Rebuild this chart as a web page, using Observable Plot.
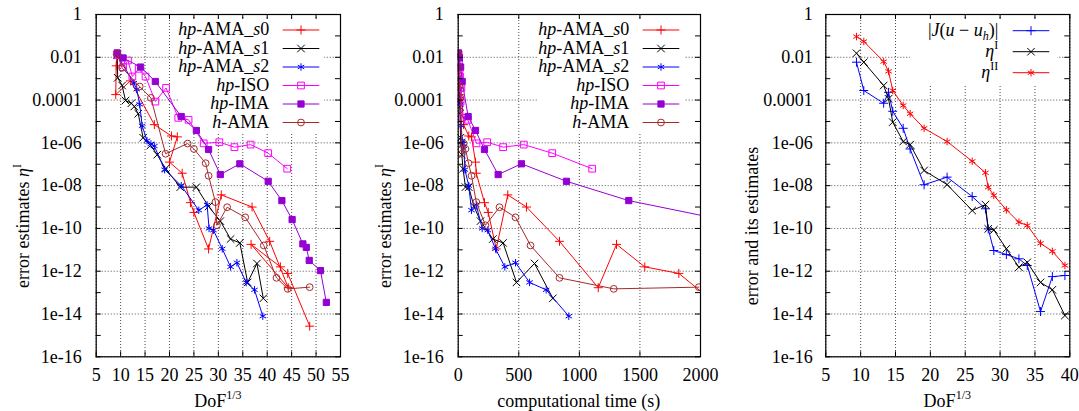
<!DOCTYPE html>
<html><head><meta charset="utf-8">
<script src="https://cdn.jsdelivr.net/npm/d3@7"></script>
<script src="https://cdn.jsdelivr.net/npm/@observablehq/plot@0.6"></script>
<style>
body{margin:0;background:#fff;}
#wrap{display:flex;width:1079px;height:411px;overflow:hidden;}
svg{display:block;}
</style></head><body><div id="wrap"></div>
<script>
// ---------- axis ticks ----------
const yTicks = [1, 1e-2, 1e-4, 1e-6, 1e-8, 1e-10, 1e-12, 1e-14, 1e-16];
const yTickLabels = ["1", "0.01", "0.0001", "1e-06", "1e-08", "1e-10", "1e-12", "1e-14", "1e-16"];
const yDecades = [1, 1e-1, 1e-2, 1e-3, 1e-4, 1e-5, 1e-6, 1e-7, 1e-8, 1e-9, 1e-10, 1e-11, 1e-12, 1e-13, 1e-14, 1e-15, 1e-16];
const dofTicksA = [5, 10, 15, 20, 25, 30, 35, 40, 45, 50, 55];
const timeTicks = [0, 500, 1000, 1500, 2000];
const dofTicksC = [5, 10, 15, 20, 25, 30, 35, 40];

// ---------- panels 1 & 2 : error estimate eta^I vs DoF^(1/3) and time ----------
const s0Dof  = [9.3, 9.1, 9.0, 12.0, 16.9, 20.4, 21.6, 20.0, 22.6, 24.3, 25.0, 28.0, 30.6, 36.9, 40.5, 44.3, 36.7, 42.7, 44.2, 48.7];
const s0Time = [3, 6, 10, 20, 45, 87, 110, 143, 149, 217, 248, 314, 409, 564, 836, 1156, 1307, 1540, 1821, 2355];
const s0Err  = [1.4e-2, 4.0e-3, 1.8e-4, 7.9e-4, 7.1e-6, 2.1e-6, 1.9e-6, 1.26e-7, 3.8e-8, 1.6e-9, 5.6e-10, 1.1e-11, 3.7e-9, 1.0e-9, 2.5e-11, 1.7e-13, 1.8e-11, 1.6e-12, 7.9e-13, 2.7e-15];

const s1Dof  = [9.3, 9.4, 10.3, 11.0, 12.2, 12.8, 13.6, 14.6, 16.1, 17.5, 19.2, 22.2, 25.5, 28.0, 30.4, 32.5, 34.4, 36.0, 37.9, 39.2];
const s1Time = [2, 4, 6, 8, 10, 12, 15, 19, 24, 30, 40, 60, 87, 130, 184, 286, 371, 481, 630, 781];
const s1Err  = [1.26e-2, 1.1e-3, 4.8e-4, 9.5e-5, 7.1e-5, 5.0e-5, 2.3e-5, 1.74e-6, 7.6e-7, 2.8e-7, 6.2e-8, 8.5e-9, 8.5e-9, 1.07e-9, 2.2e-10, 3.2e-11, 2.1e-11, 3.0e-13, 2.3e-12, 5.4e-14];

const s2Dof  = [9.3, 12.7, 13.3, 13.9, 14.4, 15.4, 16.2, 16.9, 19.0, 22.4, 26.0, 27.7, 28.1, 29.0, 30.8, 32.5, 33.8, 35.7, 37.4, 39.1];
const s2Time = [2, 8, 12, 18, 25, 33, 38, 46, 55, 87, 110, 149, 198, 244, 308, 385, 473, 589, 726, 913];
const s2Err  = [1.26e-2, 6.3e-4, 3.2e-4, 6.3e-5, 6.3e-6, 1.26e-6, 8.9e-7, 7.1e-7, 5.6e-8, 1.0e-8, 7.1e-10, 1.26e-9, 1.0e-10, 8.3e-11, 1.12e-11, 1.6e-12, 2.5e-12, 3.0e-13, 1.35e-13, 7.9e-15];

const isoDof  = [9.3, 10.5, 11.5, 12.4, 13.7, 15.1, 17.1, 19.3, 21.8, 23.9, 27.0, 30.2, 33.3, 36.6, 40.2, 44.1];
const isoTime = [2, 4, 6, 9, 12, 15, 20, 26, 33, 79, 151, 239, 371, 541, 776, 1106];
const isoErr  = [1.26e-2, 3.5e-3, 7.1e-3, 1.26e-3, 2.9e-3, 1.26e-3, 8.5e-5, 3.7e-4, 1.48e-5, 1.2e-5, 9.5e-7, 1.07e-6, 6.3e-7, 8.3e-7, 3.3e-7, 6.2e-8];

const imaDof  = [9.3, 10.5, 14.1, 17.1, 22.4, 25.5, 28.0, 30.4, 34.4, 40.2, 43.0, 45.1, 47.3, 48.0, 48.6, 50.9, 52.1];
const imaTime = [2, 10, 20, 33, 82, 143, 217, 330, 522, 894, 1408, 2175, 2800, 3100, 3400, 3800, 4300];
const imaErr  = [1.6e-2, 9.3e-3, 3.5e-3, 7.4e-4, 1.7e-5, 3.8e-6, 4.9e-7, 3.3e-8, 1.05e-7, 1.6e-8, 2.0e-9, 2.6e-10, 1.9e-11, 1.3e-11, 3.2e-12, 1.07e-12, 3.5e-14];

const hamaDof  = [9.3, 10.3, 13.9, 16.2, 19.2, 23.7, 25.0, 27.4, 28.0, 29.4, 29.7, 31.8, 35.5, 39.3, 41.9, 44.2, 48.7];
const hamaTime = [2, 5, 10, 18, 30, 45, 60, 85, 110, 149, 225, 341, 473, 597, 836, 1284, 1986];
const hamaErr  = [1.4e-2, 3.2e-3, 4.3e-4, 1.26e-4, 3.1e-7, 9.3e-7, 5.2e-7, 1.12e-7, 2.9e-8, 1.7e-9, 1.4e-10, 9.8e-10, 3.3e-10, 1.6e-11, 4.9e-13, 1.5e-13, 1.8e-13];

// ---------- panel 3 : error and its estimates ----------
const p3Dof   = [9.4, 10.45, 13.3, 14.0, 14.6, 16.1, 17.1, 19.1, 22.4, 26.0, 27.9, 28.3, 29.1, 30.9, 32.7, 33.9, 35.8, 37.5, 39.3];
const p3ErrJ  = [5.9e-3, 2.8e-4, 7.1e-5, 2.3e-4, 3.0e-5, 4.8e-6, 5.2e-7, 1.1e-8, 2.5e-8, 3.1e-9, 8.3e-10, 9.5e-11, 9.3e-12, 6.0e-12, 3.8e-12, 1.86e-12, 1.3e-14, 5.6e-13, 6.3e-13];
const p3EtaI  = [1.55e-2, 5.9e-3, 4.8e-4, 1.15e-4, 9.3e-6, 1.15e-6, 8.3e-7, 5.1e-8, 1.12e-8, 6.9e-10, 1.3e-9, 9.5e-11, 8.5e-11, 1.12e-11, 1.55e-12, 2.6e-12, 3.0e-13, 1.35e-13, 8.5e-15];
const p3EtaII = [9.3e-2, 5.5e-2, 6.3e-3, 2.2e-3, 2.8e-4, 5.6e-5, 2.3e-5, 4.8e-6, 1.15e-6, 1.38e-7, 4.0e-8, 8.5e-9, 3.5e-9, 7.4e-10, 1.95e-10, 1.38e-10, 2.0e-11, 8.5e-12, 1.86e-12];

// ---------- labels ----------
const namesAB = [
  '<tspan font-style="italic">hp</tspan>-AMA_<tspan font-style="italic">s</tspan>0',
  '<tspan font-style="italic">hp</tspan>-AMA_<tspan font-style="italic">s</tspan>1',
  '<tspan font-style="italic">hp</tspan>-AMA_<tspan font-style="italic">s</tspan>2',
  '<tspan font-style="italic">hp</tspan>-ISO',
  '<tspan font-style="italic">hp</tspan>-IMA',
  '<tspan font-style="italic">h</tspan>-AMA'
];
const namesC = [
  '|<tspan font-style="italic">J</tspan>(<tspan font-style="italic">u</tspan> − <tspan font-style="italic">u</tspan><tspan font-style="italic" font-size="12" dy="4">h</tspan><tspan dy="-4">)|</tspan>',
  '<tspan font-style="italic">η</tspan><tspan font-size="12" dy="-8">I</tspan>',
  '<tspan font-style="italic">η</tspan><tspan font-size="12" dy="-8">II</tspan>'
];

// ---------- styles ----------
const symbolMap = {plus: d3.symbolPlus, times: d3.symbolTimes, asterisk: d3.symbolAsterisk, square: d3.symbolSquare, circle: d3.symbolCircle};
const stylesAB = [
  {color: "#ff0000", symbol: "plus", r: 3.0, fill: false},
  {color: "#000000", symbol: "times", r: 3.5, fill: false},
  {color: "#0000ff", symbol: "asterisk", r: 3.5, fill: false},
  {color: "#ff00ff", symbol: "square", r: 3.8, fill: false},
  {color: "#9400d3", symbol: "square", r: 3.5, fill: true},
  {color: "#a52a2a", symbol: "circle", r: 3.4, fill: false}
];
const stylesC = [
  {color: "#0000ff", symbol: "plus", r: 3.0, fill: false},
  {color: "#000000", symbol: "times", r: 3.5, fill: false},
  {color: "#ff0000", symbol: "asterisk", r: 3.5, fill: false}
];

const rows = (xs, ys) => xs.map((x, i) => ({x, y: ys[i]}));

const FONT = "'Liberation Serif', 'Times New Roman', serif";
const H = 411, MT = 14, MB = 54.7;

function makePanel(cfg) {
  const {width, mL, mR, xDomain, xTicks, series, styles, names, leg} = cfg;
  const plotW = width - mL - mR, plotH = H - MT - MB;
  const gridStyle = {stroke: "#000", strokeOpacity: 0.7, strokeWidth: 1, strokeDasharray: "1,2"};
  const marks = [
    Plot.ruleX(xTicks, gridStyle),
    Plot.ruleY(yTicks, gridStyle)
  ];
  series.forEach((data, k) => {
    const st = styles[k];
    marks.push(Plot.line(data, {x: "x", y: "y", stroke: st.color, strokeWidth: 1, clip: true}));
    marks.push(Plot.dot(data, {x: "x", y: "y", symbol: st.symbol, r: st.r, stroke: st.color, strokeWidth: 1,
      fill: st.fill ? st.color : "none", clip: true}));
  });
  marks.push(
    Plot.ruleX(xTicks, {stroke: "#000", insetTop: plotH - 5}),
    Plot.ruleX(xTicks, {stroke: "#000", insetBottom: plotH - 5}),
    Plot.ruleY(yDecades, {stroke: "#000", insetRight: plotW - 5}),
    Plot.ruleY(yDecades, {stroke: "#000", insetLeft: plotW - 5}),
    Plot.frame({stroke: "#000", strokeWidth: 1.2}),
    Plot.axisX(xTicks, {tickSize: 0, tickPadding: 11, label: null, tickFormat: d => String(d)}),
    Plot.axisY(yTicks, {tickSize: 0, tickPadding: cfg.yPad, label: null, tickFormat: d => yTickLabels[yTicks.indexOf(d)]})
  );
  const svg = Plot.plot({
    width, height: H, marginLeft: mL, marginRight: mR, marginTop: MT, marginBottom: MB,
    x: {domain: xDomain},
    y: {type: "log", domain: [1e-16, 1]},
    style: {fontFamily: FONT, fontSize: "18px", background: "#fff", color: "#000", overflow: "visible"},
    marks
  });
  const s = d3.select(svg);
  // opaque key box: above the grid, below the data
  s.insert("rect", ":scope > g:nth-of-type(3)")
    .attr("x", leg.bx).attr("y", leg.by).attr("width", leg.bw).attr("height", leg.bh).attr("fill", "#fff");
  const g = s.append("g").attr("font-family", FONT).attr("font-size", 18);
  names.forEach((nm, i) => {
    const st = styles[i];
    const yl = leg.y0 + leg.dy * i;
    g.append("text").attr("x", leg.tx).attr("y", yl + 5).attr("text-anchor", "end").html(nm);
    g.append("line").attr("x1", leg.x1).attr("x2", leg.x2).attr("y1", yl).attr("y2", yl).attr("stroke", st.color).attr("stroke-width", 1);
    g.append("path").attr("transform", `translate(${(leg.x1 + leg.x2) / 2},${yl})`)
      .attr("d", d3.symbol(symbolMap[st.symbol], Math.PI * st.r * st.r)())
      .attr("stroke", st.color).attr("stroke-width", 1).attr("fill", st.fill ? st.color : "none");
  });
  // axis titles
  s.append("text").attr("x", mL + plotW / 2).attr("y", 407).attr("text-anchor", "middle")
    .attr("font-family", FONT).attr("font-size", 18).html(cfg.xTitle);
  s.append("text").attr("transform", `translate(${cfg.yTitleX},226) rotate(-90)`).attr("text-anchor", "middle")
    .attr("font-family", FONT).attr("font-size", 18).html(cfg.yTitle);
  return svg;
}

const dofTitle = 'DoF<tspan font-size="12" dy="-8">1/3</tspan>';
const etaTitle = 'error estimates <tspan font-style="italic">η</tspan><tspan font-size="12" dy="-8">I</tspan>';
const legAB = {bx: 178, by: 18, bw: 146, bh: 114, tx: 269.3, x1: 282.7, x2: 319.3, y0: 30, dy: 18.5};

const wrap = document.getElementById("wrap");
wrap.append(makePanel({
  width: 360, mL: 95.7, mR: 20, xDomain: [5, 55], xTicks: dofTicksA, yPad: 14.5,
  series: [rows(s0Dof, s0Err), rows(s1Dof, s1Err), rows(s2Dof, s2Err), rows(isoDof, isoErr), rows(imaDof, imaErr), rows(hamaDof, hamaErr)],
  styles: stylesAB, names: namesAB, leg: legAB, xTitle: dofTitle, yTitle: etaTitle, yTitleX: 29
}));
wrap.append(makePanel({
  width: 360, mL: 97.7, mR: 20, xDomain: [0, 2000], xTicks: timeTicks, yPad: 14.5,
  series: [rows(s0Time, s0Err), rows(s1Time, s1Err), rows(s2Time, s2Err), rows(isoTime, isoErr), rows(imaTime, imaErr), rows(hamaTime, hamaErr)],
  styles: stylesAB, names: namesAB, leg: legAB, xTitle: "computational time (s)", yTitle: etaTitle, yTitleX: 30.7
}));
wrap.append(makePanel({
  width: 359, mL: 105.3, mR: 9.7, xDomain: [5, 40], xTicks: dofTicksC, yPad: 13,
  series: [rows(p3Dof, p3ErrJ), rows(p3Dof, p3EtaI), rows(p3Dof, p3EtaII)],
  styles: stylesC, names: namesC,
  leg: {bx: 190, by: 18, bw: 147, bh: 67, tx: 278.3, x1: 292.7, x2: 329.3, y0: 30.7, dy: 21},
  xTitle: dofTitle, yTitle: "error and its estimates", yTitleX: 38.3
}));
</script></body></html>
